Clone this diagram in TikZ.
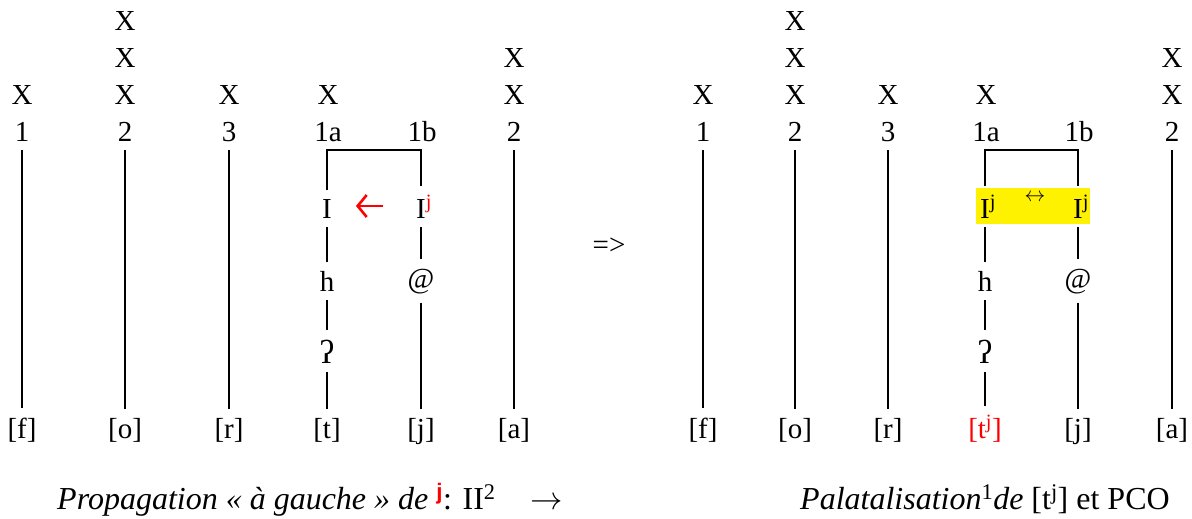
\documentclass[tikz,border=0pt]{standalone}
\usepackage{fontspec}
\setmainfont{Liberation Serif}
\newfontfamily\capsans{Liberation Sans}
\usetikzlibrary{arrows.meta, positioning}

\begin{document}
\begin{tikzpicture}[
    x=1pt, y=-1pt,
    every node/.append style={font=\fontsize{29}{34}\selectfont},
    lbl/.style={anchor=base, inner xsep=1pt, inner ysep=9pt},
    glot/.style={lbl, font=\fontsize{33}{34}\selectfont},
    tier/.style={line width=1.5pt},
    redarr/.style={-{Straight Barb[length=9pt, width=22pt]}, red, line width=2.6pt},
    hl/.style={fill=yellow},
    caption/.style={anchor=base west, inner sep=0pt, font=\fontsize{32}{36}\selectfont}
  ]
  \useasboundingbox (0,0) rectangle (1192,519);

  % left representation
  \node[lbl] (lx1)  at (22,104) {X};
  \node[lbl] (lx2c) at (125,31) {X};
  \node[lbl] (lx2b) at (125,68) {X};
  \node[lbl] (lx2a) at (125,104) {X};
  \node[lbl] (lx3)  at (229,104) {X};
  \node[lbl] (lx1a) at (328,104) {X};
  \node[lbl] (lx4b) at (514,68) {X};
  \node[lbl] (lx4a) at (514,104) {X};

  \node[lbl] (ln1)  at (22,141)  {1};
  \node[lbl] (ln2)  at (125,141) {2};
  \node[lbl] (ln3)  at (229,141) {3};
  \node[lbl] (ln1a) at (328,141) {1a};
  \node[lbl] (ln1b) at (422,141) {1b};
  \node[lbl] (ln4)  at (514,141) {2};

  \node[lbl] (lIa) at (327,218) {I};
  \node[lbl] (lIb) at (421,218) {I\rlap{\textcolor{red}{\textsuperscript{j}}}};
  \node[lbl] (lha) at (327,291) {h};
  \node[lbl] (lat) at (421,288) {@};
  \node[glot] (lqa) at (327,363) {ʔ};

  \node[lbl] (lf) at (22,438)  {[f]};
  \node[lbl] (lo) at (125,438) {[o]};
  \node[lbl] (lr) at (229,438) {[r]};
  \node[lbl] (lt) at (327,438) {[t]};
  \node[lbl] (lj) at (421,438) {[j]};
  \node[lbl] (la) at (514,438) {[a]};

  \coordinate (lbr) at (0,150);
  \coordinate (lgo) at (383,206);
  \coordinate (lto) at (356,206);

  \draw[tier] (ln1) -- (lf);
  \draw[tier] (ln2) -- (lo);
  \draw[tier] (ln3) -- (lr);
  \draw[tier] (ln4) -- (la);
  \draw[tier] (lIa) -- (lIa |- lbr) -- (lIb |- lbr) -- (lIb);
  \draw[tier] (lIa) -- (lha);
  \draw[tier] (lha) -- (lqa);
  \draw[tier] (lqa) -- (lt);
  \draw[tier] (lIb) -- (lat);
  \draw[tier] (lat) -- (lj);
  \draw[redarr] (lgo) -- (lto);

  \node[lbl] (yields) at (609,254) {=>};

  % right representation
  \fill[hl] (976,188) rectangle (1090,224);

  \node[lbl] (rx1)  at (703,104)  {X};
  \node[lbl] (rx2c) at (795,31)   {X};
  \node[lbl] (rx2b) at (795,68)   {X};
  \node[lbl] (rx2a) at (795,104)  {X};
  \node[lbl] (rx3)  at (888,104)  {X};
  \node[lbl] (rx1a) at (986,104)  {X};
  \node[lbl] (rx4b) at (1172,68)  {X};
  \node[lbl] (rx4a) at (1172,104) {X};

  \node[lbl] (rn1)  at (703,141)  {1};
  \node[lbl] (rn2)  at (795,141)  {2};
  \node[lbl] (rn3)  at (888,141)  {3};
  \node[lbl] (rn1a) at (986,141)  {1a};
  \node[lbl] (rn1b) at (1079,141) {1b};
  \node[lbl] (rn4)  at (1172,141) {2};

  \node[lbl] (rIa) at (985,218)  {I\rlap{\textsuperscript{j}}};
  \node[lbl] (rIb) at (1078,218) {I\rlap{\textsuperscript{j}}};
  \node[font=\fontsize{20}{20}\selectfont, inner sep=0pt] (rlink) at (1035,198) {$\leftrightarrow$};
  \node[lbl] (rha) at (985,291)  {h};
  \node[lbl] (rat) at (1078,288) {@};
  \node[glot] (rqa) at (985,363) {ʔ};

  \node[lbl] (rf) at (703,438)  {[f]};
  \node[lbl] (ro) at (795,438)  {[o]};
  \node[lbl] (rr) at (888,438)  {[r]};
  \node[lbl, red] (rt) at (985,438) {[t\textsuperscript{j}]};
  \node[lbl] (rj) at (1078,438) {[j]};
  \node[lbl] (ra) at (1172,438) {[a]};

  \coordinate (rbr) at (0,150);

  \draw[tier] (rn1) -- (rf);
  \draw[tier] (rn2) -- (ro);
  \draw[tier] (rn3) -- (rr);
  \draw[tier] (rn4) -- (ra);
  \draw[tier] (rIa) -- (rIa |- rbr) -- (rIb |- rbr) -- (rIb);
  \draw[tier] (rIa) -- (rha);
  \draw[tier] (rha) -- (rqa);
  \draw[tier] (rqa) -- (rt);
  \draw[tier] (rIb) -- (rat);
  \draw[tier] (rat) -- (rj);

  % captions
  \node[caption] (lcap) at (57,509) {\textit{Propagation « à gauche » de} \textcolor{red}{\capsans\bfseries\textsuperscript{j}}: II\textsuperscript{2}\hspace{1.1em}\scalebox{1.3}{$\rightarrow$}};
  \node[caption] (rcap) at (800,509) {\textit{Palatalisation}\textsuperscript{1}\textit{de} [t\textsuperscript{j}] et PCO};
\end{tikzpicture}
\end{document}
